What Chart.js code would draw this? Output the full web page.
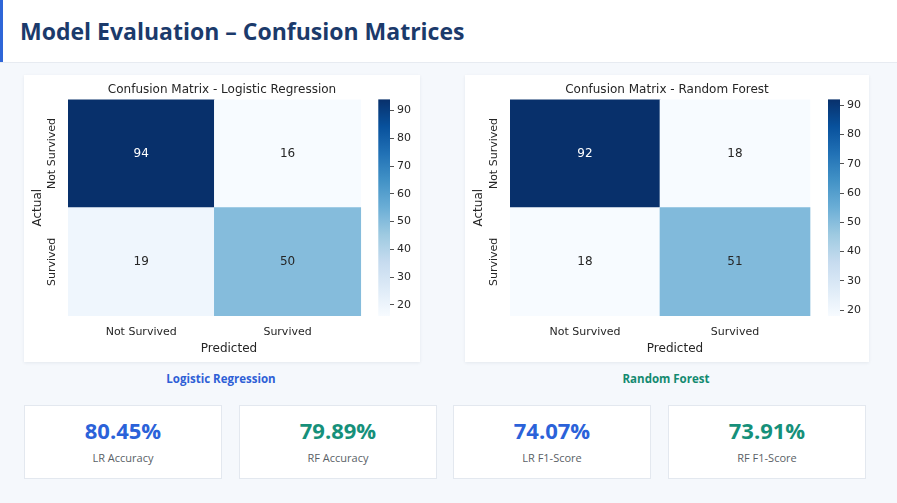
<!DOCTYPE html>
<html>
<head>
<meta charset="utf-8">
<script src="https://cdn.jsdelivr.net/npm/chart.js@4.4.0/dist/chart.umd.min.js"></script>
<style>
html, body { margin: 0; padding: 0; }
body { width: 897px; height: 503px; background: #f5f8fc; position: relative; overflow: hidden; font-family: "Open Sans", "Noto Sans", sans-serif; }
.header { position: absolute; left: 0; top: 0; width: 897px; height: 62px; background: #fff; border-bottom: 1px solid #e7ebf1; }
.accent { position: absolute; left: 0; top: 0; width: 3px; height: 62px; background: #2f66d8; }
.header h1 { position: absolute; left: 20px; top: 0; margin: 0; line-height: 62px; font-size: 23px; font-weight: 700; color: #1b3a6b; }
.panel { position: absolute; top: 75px; height: 287px; background: #fff; box-shadow: 0 1px 3px rgba(30, 50, 80, 0.08); }
.model { position: absolute; top: 371px; width: 200px; font-size: 11.5px; font-weight: 700; text-align: center; }
.metric { position: absolute; top: 405px; width: 198px; height: 74px; background: #fff; border: 1px solid #e3e8ef; box-sizing: border-box; text-align: center; }
.metric .val { position: absolute; left: 0; right: 0; top: 9px; font-size: 22px; font-weight: 700; }
.metric .lbl { position: absolute; left: 0; right: 0; top: 44px; font-size: 11px; color: #5a5f66; }
</style>
</head>
<body>
<div class="header"><div class="accent"></div><h1>Model Evaluation – Confusion Matrices</h1></div>
<div class="panel" style="left:24px;width:396px"><canvas id="lrChart"></canvas></div>
<div class="panel" style="left:465px;width:404px"><canvas id="rfChart"></canvas></div>
<div class="model" id="lrName" style="left:121px;color:#2e5fd6"></div>
<div class="model" id="rfName" style="left:566px;color:#138a70"></div>
<div id="metrics"></div>

<script>
var classLabels = ['Not Survived', 'Survived'];
var lrMatrix = [[94, 16], [19, 50]];
var rfMatrix = [[92, 18], [18, 51]];
var modelNames = ['Logistic Regression', 'Random Forest'];
var metricLabels = ['LR Accuracy', 'RF Accuracy', 'LR F1-Score', 'RF F1-Score'];
var metricValues = [80.45, 79.89, 74.07, 73.91];
var colorbarStep = 10;

var metricColors = ['#2b62d9', '#16907a', '#2b62d9', '#16907a'];
var metricLefts = [24, 239, 453, 668];

// matplotlib "Blues"
var blues = ['#f7fbff', '#deebf7', '#c6dbef', '#9ecae1', '#6baed6', '#4292c6', '#2171b5', '#08519c', '#08306b'];

function hexToRgb(h) {
  return [parseInt(h.substr(1, 2), 16), parseInt(h.substr(3, 2), 16), parseInt(h.substr(5, 2), 16)];
}
function bluesAt(t) {
  t = Math.max(0, Math.min(1, t));
  var pos = t * (blues.length - 1);
  var i = Math.min(Math.floor(pos), blues.length - 2);
  var f = pos - i;
  var a = hexToRgb(blues[i]), b = hexToRgb(blues[i + 1]);
  return [0, 1, 2].map(function (k) { return Math.round(a[k] + (b[k] - a[k]) * f); });
}
function rgbStr(c) { return 'rgb(' + c.join(',') + ')'; }
function lum(c) {
  var l = c.map(function (v) { v = v / 255; return v <= 0.03928 ? v / 12.92 : Math.pow((v + 0.055) / 1.055, 2.4); });
  return 0.2126 * l[0] + 0.7152 * l[1] + 0.0722 * l[2];
}

var xMax = 2.2;      // room right of the cells for the colorbar
var cbStart = 2.12;
var textColor = '#262626';
var dv = 'DejaVu Sans';

var heatmapExtras = {
  id: 'heatmapExtras',
  beforeDatasetsDraw: function (chart) {
    var ctx = chart.ctx, x = chart.scales.x, cb = chart.scales.cb;
    var x0 = x.getPixelForValue(cbStart), x1 = x.getPixelForValue(xMax);
    var top = cb.getPixelForValue(cb.max), bottom = cb.getPixelForValue(cb.min);
    var g = ctx.createLinearGradient(0, bottom, 0, top);
    for (var i = 0; i <= 16; i++) g.addColorStop(i / 16, rgbStr(bluesAt(i / 16)));
    ctx.save();
    ctx.fillStyle = g;
    ctx.fillRect(x0, top, x1 - x0, bottom - top);
    ctx.restore();
  },
  afterDatasetsDraw: function (chart) {
    var ctx = chart.ctx;
    var ds = chart.data.datasets[0];
    var meta = chart.getDatasetMeta(0);
    ctx.save();
    ctx.font = '12px "' + dv + '"';
    ctx.textAlign = 'center';
    ctx.textBaseline = 'middle';
    meta.data.forEach(function (bar, i) {
      var p = bar.getProps(['x', 'y', 'base'], true);
      var c = ds.cellRgb[i];
      ctx.fillStyle = lum(c) > 0.408 ? textColor : '#ffffff';
      ctx.fillText(String(ds.data[i].v), p.x, (p.y + p.base) / 2);
    });
    // rotated row labels
    var ys = chart.scales.y;
    ctx.font = '11px "' + dv + '"';
    ctx.fillStyle = textColor;
    classLabels.forEach(function (lab, r) {
      ctx.save();
      ctx.translate(chart.chartArea.left - 16, ys.getPixelForValue(r + 0.5));
      ctx.rotate(-Math.PI / 2);
      ctx.fillText(lab, 0, 0);
      ctx.restore();
    });
    ctx.restore();
  }
};

function makeHeatmap(canvasId, title, matrix, yWidth, cbWidth) {
  var values = [].concat.apply([], matrix);
  var vmin = Math.min.apply(null, values), vmax = Math.max.apply(null, values);
  var cells = [];
  matrix.forEach(function (row, r) {
    row.forEach(function (v, c) { cells.push({ x: c + 0.5, y: [r, r + 1], v: v }); });
  });
  var rgb = cells.map(function (p) { return bluesAt((p.v - vmin) / (vmax - vmin)); });

  new Chart(document.getElementById(canvasId), {
    type: 'bar',
    data: {
      datasets: [{
        data: cells,
        cellRgb: rgb,
        backgroundColor: rgb.map(rgbStr),
        borderWidth: 0,
        barPercentage: 1,
        categoryPercentage: 1
      }]
    },
    options: {
      responsive: true,
      maintainAspectRatio: false,
      animation: false,
      layout: { padding: 0 },
      plugins: {
        legend: { display: false },
        tooltip: { enabled: false },
        title: {
          display: true, text: title, color: textColor,
          font: { family: dv, size: 12, weight: 'normal' },
          padding: { top: 8, bottom: 2 }
        }
      },
      scales: {
        x: {
          type: 'linear', min: 0, max: xMax, offset: false,
          grid: { display: false, drawTicks: false }, border: { display: false },
          afterBuildTicks: function (a) { a.ticks = [0.5, 1.5].map(function (v) { return { value: v }; }); },
          ticks: {
            autoSkip: false, maxRotation: 0, minRotation: 0, padding: 10, color: textColor,
            font: { family: dv, size: 11 },
            callback: function (v) { return classLabels[Math.floor(v)]; }
          },
          title: { display: true, text: 'Predicted', color: textColor, font: { family: dv, size: 12 }, padding: { top: 0, bottom: 6 } },
          afterFit: function (a) { a.height = 46; }
        },
        y: {
          type: 'linear', reverse: true, min: 0, max: 2,
          grid: { display: false, drawTicks: false }, border: { display: false },
          ticks: { display: false },
          title: { display: true, text: 'Actual', color: textColor, font: { family: dv, size: 12 }, padding: { top: 7, bottom: 0 } },
          afterFit: function (a) { a.width = yWidth; }
        },
        cb: {
          type: 'linear', position: 'right', min: vmin, max: vmax,
          grid: { drawOnChartArea: false, drawTicks: true, tickLength: 4, color: textColor, lineWidth: 0.8 },
          border: { display: false },
          afterBuildTicks: function (a) {
            var t = [];
            for (var v = Math.ceil(a.min / colorbarStep) * colorbarStep; v <= a.max; v += colorbarStep) t.push({ value: v });
            a.ticks = t;
          },
          ticks: { padding: 3, color: textColor, font: { family: dv, size: 11 } },
          afterFit: function (a) { a.width = cbWidth; }
        }
      }
    },
    plugins: [heatmapExtras]
  });
}

makeHeatmap('lrChart', 'Confusion Matrix - ' + modelNames[0], lrMatrix, 44, 30);
makeHeatmap('rfChart', 'Confusion Matrix - ' + modelNames[1], rfMatrix, 45, 29);

document.getElementById('lrName').textContent = modelNames[0];
document.getElementById('rfName').textContent = modelNames[1];

var box = document.getElementById('metrics');
metricLabels.forEach(function (lab, i) {
  var d = document.createElement('div');
  d.className = 'metric';
  d.style.left = metricLefts[i] + 'px';
  d.innerHTML = '<div class="val" style="color:' + metricColors[i] + '">' + metricValues[i].toFixed(2) + '%</div><div class="lbl">' + lab + '</div>';
  box.appendChild(d);
});
</script>
</body>
</html>
